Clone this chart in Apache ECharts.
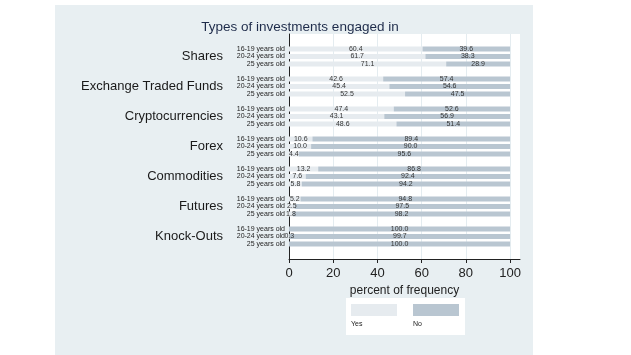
<!DOCTYPE html>
<html>
<head>
<meta charset="utf-8">
<script src="https://cdn.jsdelivr.net/npm/echarts@6/dist/echarts.min.js"></script>
<style>html,body{margin:0;padding:0;background:#fff}#c{width:631px;height:355px}</style>
</head>
<body>
<div id="c"></div>
<script>
const groups = ['Shares', 'Exchange Traded Funds', 'Cryptocurrencies', 'Forex', 'Commodities', 'Futures', 'Knock-Outs'];
const ages = ['16-19 years old', '20-24 years old', '25 years old'];
const xTicks = [0, 20, 40, 60, 80, 100];
const seriesNames = ['Yes', 'No'];

const yesShares = [60.4, 61.7, 71.1];
const noShares = [39.6, 38.3, 28.9];
const yesETF = [42.6, 45.4, 52.5];
const noETF = [57.4, 54.6, 47.5];
const yesCrypto = [47.4, 43.1, 48.6];
const noCrypto = [52.6, 56.9, 51.4];
const yesForex = [10.6, 10.0, 4.4];
const noForex = [89.4, 90.0, 95.6];
const yesCommodities = [13.2, 7.6, 5.8];
const noCommodities = [86.8, 92.4, 94.2];
const yesFutures = [5.2, 2.5, 1.8];
const noFutures = [94.8, 97.5, 98.2];
const yesKnockOuts = [0, 0.3, 0];
const noKnockOuts = [100.0, 99.7, 100.0];

const yesByGroup = [yesShares, yesETF, yesCrypto, yesForex, yesCommodities, yesFutures, yesKnockOuts];
const noByGroup = [noShares, noETF, noCrypto, noForex, noCommodities, noFutures, noKnockOuts];

// Build category rows (with blank spacer rows between groups and at the ends)
const ageCats = ['', ''];
const groupCats = ['', ''];
const yesData = ['-', '-'];
const noData = ['-', '-'];
groups.forEach((g, gi) => {
  ages.forEach((a, ai) => {
    ageCats.push(a);
    groupCats.push(ai === 1 ? g : ' ');
    yesData.push(yesByGroup[gi][ai]);
    noData.push(noByGroup[gi][ai]);
  });
  if (gi < groups.length - 1) {
    ageCats.push('');
    groupCats.push('');
    yesData.push('-');
    noData.push('-');
  }
});
ageCats.push('', '');
groupCats.push('', '');
yesData.push('-', '-');
noData.push('-', '-');

const chart = echarts.init(document.getElementById('c'), null, { renderer: 'canvas' });
const FONT = 'Liberation Sans, Arial, sans-serif';
const valLabel = {
  show: true,
  position: 'inside',
  fontSize: 7,
  fontFamily: FONT,
  color: '#333',
  formatter: p => (p.value === 0 ? '' : Number(p.value).toFixed(1))
};

chart.setOption({
  animation: false,
  backgroundColor: '#fff',
  graphic: [
    { type: 'rect', z: -10, silent: true, shape: { x: 55, y: 5, width: 478, height: 350 }, style: { fill: '#e8eff2' } },
    { type: 'text', z: 10, style: { x: 351, y: 324, text: 'Yes', fontSize: 7, fontFamily: FONT, fill: '#222', textVerticalAlign: 'middle' } },
    { type: 'text', z: 10, style: { x: 413, y: 324, text: 'No', fontSize: 7, fontFamily: FONT, fill: '#222', textVerticalAlign: 'middle' } }
  ],
  title: {
    text: 'Types of investments engaged in',
    left: 295,
    textAlign: 'center',
    top: 15,
    textStyle: { fontSize: 13.5, fontWeight: 'normal', color: '#1e2b4a', fontFamily: FONT }
  },
  legend: {
    data: seriesNames,
    left: 346,
    top: 298,
    orient: 'horizontal',
    icon: 'rect',
    itemWidth: 46,
    itemHeight: 12,
    itemGap: 16,
    padding: [6, 6, 19, 5],
    backgroundColor: '#fff',
    formatter: () => '',
    selectedMode: false
  },
  grid: {
    left: 289,
    right: 111,
    top: 34,
    bottom: 96,
    show: true,
    backgroundColor: '#fff',
    borderWidth: 0,
    containLabel: false
  },
  xAxis: {
    type: 'value',
    min: 0,
    max: 104.5,
    interval: 20,
    name: 'percent of frequency',
    nameLocation: 'middle',
    nameGap: 23,
    nameTextStyle: { fontSize: 12, color: '#222', fontFamily: FONT },
    axisLine: { show: true, lineStyle: { color: '#222', width: 1 } },
    axisTick: { show: true, length: 4, customValues: xTicks, lineStyle: { color: '#222' } },
    axisLabel: { customValues: xTicks, fontSize: 13, color: '#222', margin: 8, fontFamily: FONT },
    splitLine: { show: true, lineStyle: { color: '#e4ecf0', width: 1 } }
  },
  yAxis: [
    {
      type: 'category',
      data: ageCats,
      inverse: true,
      boundaryGap: false,
      axisLine: { show: true, lineStyle: { color: '#222', width: 1 } },
      axisTick: { show: false },
      axisLabel: { interval: 0, fontSize: 7, color: '#222', margin: 4, fontFamily: FONT },
      splitLine: { show: false }
    },
    {
      type: 'category',
      data: groupCats,
      inverse: true,
      boundaryGap: false,
      position: 'left',
      axisLine: { show: false },
      axisTick: { show: false },
      axisLabel: { interval: 0, fontSize: 13, color: '#1a1a1a', margin: 66, fontFamily: FONT },
      splitLine: { show: false }
    }
  ],
  series: [
    {
      name: 'Yes',
      type: 'bar',
      stack: 'total',
      yAxisIndex: 0,
      barWidth: 5,
      data: yesData,
      itemStyle: { color: '#e6ebef' },
      label: valLabel
    },
    {
      name: 'No',
      type: 'bar',
      stack: 'total',
      yAxisIndex: 0,
      barWidth: 5,
      data: noData,
      itemStyle: { color: '#b9c6d1' },
      label: valLabel
    }
  ]
});
</script>
</body>
</html>
